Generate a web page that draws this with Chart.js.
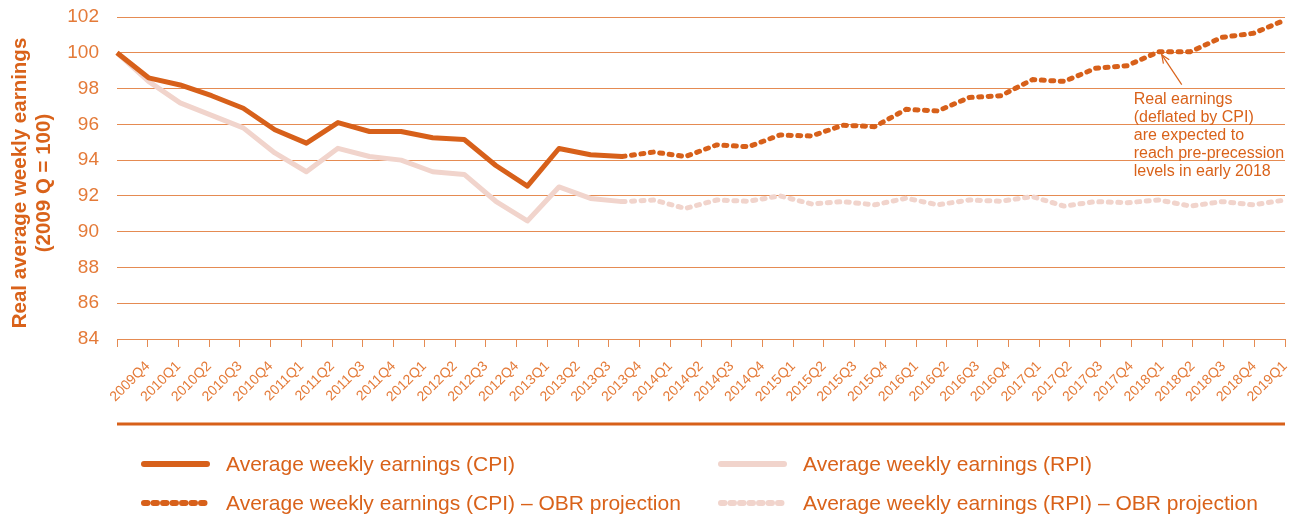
<!DOCTYPE html>
<html><head><meta charset="utf-8">
<script src="https://cdn.jsdelivr.net/npm/chart.js@4.4.1/dist/chart.umd.min.js"></script>
<style>html,body{margin:0;padding:0;background:#fff;overflow:hidden}canvas{display:block}</style>
</head><body>
<canvas id="c" width="1301" height="515"></canvas>
<script>
const categories = ['2009Q4','2010Q1','2010Q2','2010Q3','2010Q4','2011Q1','2011Q2','2011Q3','2011Q4',
  '2012Q1','2012Q2','2012Q3','2012Q4','2013Q1','2013Q2','2013Q3','2013Q4','2014Q1','2014Q2','2014Q3',
  '2014Q4','2015Q1','2015Q2','2015Q3','2015Q4','2016Q1','2016Q2','2016Q3','2016Q4','2017Q1','2017Q2',
  '2017Q3','2017Q4','2018Q1','2018Q2','2018Q3','2018Q4','2019Q1'];
const cpi = [100.0, 98.6, 98.2, 97.6, 96.9, 95.7, 94.95, 96.1, 95.6, 95.6, 95.25, 95.15, 93.7, 92.55,
  94.65, 94.3, 94.2, 94.45, 94.2, 94.85, 94.75, 95.4, 95.35, 95.95, 95.87, 96.84, 96.75, 97.5, 97.6,
  98.5, 98.4, 99.13, 99.28, 100.06, 100.06, 100.86, 101.09, 101.83];
const rpi = [100.0, 98.4, 97.2, 96.5, 95.8, 94.4, 93.35, 94.66, 94.2, 94.0, 93.35, 93.2, 91.7, 90.6,
  92.5, 91.86, 91.68, 91.77, 91.3, 91.77, 91.7, 92.0, 91.55, 91.68, 91.5, 91.87, 91.5, 91.77, 91.7,
  91.96, 91.43, 91.68, 91.62, 91.77, 91.43, 91.68, 91.5, 91.77];
const projectionStart = 16; // index of 2013Q4, first projected point shared with actuals
const yMin = 84, yMax = 102, yStep = 2;
const seriesNames = ['Average weekly earnings (CPI)', 'Average weekly earnings (CPI) \u2013 OBR projection',
  'Average weekly earnings (RPI)', 'Average weekly earnings (RPI) \u2013 OBR projection'];
const yTitle = ['Real average weekly earnings', '(2009 Q = 100)'];
const annotationIndex = 33;
const annotationText = ['Real earnings', '(deflated by CPI)', 'are expected to', 'reach pre-precession', 'levels in early 2018'];

const cpiColor = '#d7601a', rpiColor = '#f1d4cc', textColor = '#d9621a', tickColor = '#e47a38', gridColor = '#e58b52';
const FONT = '"Liberation Sans", Arial, Helvetica, sans-serif';
const DASH = [3, 6.5];

const actual = arr => arr.map((v, i) => i <= projectionStart ? v : null);
const projected = arr => arr.map((v, i) => i >= projectionStart ? v : null);

const base = {pointRadius: 0, pointHoverRadius: 0, tension: 0, borderWidth: 5, borderJoinStyle: 'round', spanGaps: false, fill: false};
const datasets = [
  Object.assign({}, base, {label: seriesNames[0], data: actual(cpi), borderColor: cpiColor, borderCapStyle: 'butt'}),
  Object.assign({}, base, {label: seriesNames[1], data: projected(cpi), borderColor: cpiColor, borderDash: DASH, borderCapStyle: 'round'}),
  Object.assign({}, base, {label: seriesNames[2], data: actual(rpi), borderColor: rpiColor, borderCapStyle: 'butt'}),
  Object.assign({}, base, {label: seriesNames[3], data: projected(rpi), borderColor: rpiColor, borderDash: DASH, borderCapStyle: 'round'})
];

const overlay = {
  id: 'overlay',
  afterDraw(chart) {
    const {ctx, chartArea, scales} = chart;
    ctx.save();
    // y axis title
    ctx.fillStyle = textColor;
    ctx.font = 'bold 20.5px ' + FONT;
    ctx.textAlign = 'center';
    ctx.textBaseline = 'middle';
    const cy = (chartArea.top + chartArea.bottom) / 2 + 5;
    yTitle.forEach((t, i) => {
      ctx.save(); ctx.translate(20 + i * 24, cy); ctx.rotate(-Math.PI / 2); ctx.fillText(t, 0, 0); ctx.restore();
    });
    // separator rule
    ctx.strokeStyle = cpiColor; ctx.lineWidth = 3;
    ctx.beginPath(); ctx.moveTo(chartArea.left, 424); ctx.lineTo(chartArea.right, 424); ctx.stroke();
    // annotation
    const px = scales.x.getPixelForValue(annotationIndex);
    const py = scales.y.getPixelForValue(cpi[annotationIndex]);
    const tx = px + 3, ty = py + 3, sx = px + 23, sy = py + 33;
    ctx.strokeStyle = textColor; ctx.lineWidth = 1.2;
    ctx.beginPath(); ctx.moveTo(sx, sy); ctx.lineTo(tx, ty); ctx.stroke();
    const ang = Math.atan2(ty - sy, tx - sx);
    ctx.beginPath();
    ctx.moveTo(tx + 9 * Math.cos(ang + Math.PI - 0.4), ty + 9 * Math.sin(ang + Math.PI - 0.4));
    ctx.lineTo(tx, ty);
    ctx.lineTo(tx + 9 * Math.cos(ang + Math.PI + 0.4), ty + 9 * Math.sin(ang + Math.PI + 0.4));
    ctx.stroke();
    ctx.fillStyle = textColor;
    ctx.font = '16px ' + FONT;
    ctx.textAlign = 'left'; ctx.textBaseline = 'alphabetic';
    annotationText.forEach((t, i) => ctx.fillText(t, px - 25, py + 52 + i * 18));
    // legend
    const cols = [{s: 141, e: 210, t: 226}, {s: 718, e: 787, t: 803}];
    const rows = [464, 503];
    const order = [[0, 0, 0], [2, 1, 0], [1, 0, 1], [3, 1, 1]];
    ctx.font = '21px ' + FONT;
    ctx.textBaseline = 'middle';
    order.forEach(([di, c, r]) => {
      const ds = chart.data.datasets[di];
      const col = cols[c], y = rows[r];
      ctx.save();
      ctx.strokeStyle = ds.borderColor; ctx.lineWidth = 6; ctx.lineCap = 'round';
      ctx.setLineDash(ds.borderDash ? [3.5, 6] : []);
      ctx.beginPath(); ctx.moveTo(col.s + 3, y); ctx.lineTo(col.e - 3, y); ctx.stroke();
      ctx.restore();
      ctx.fillStyle = textColor;
      ctx.fillText(ds.label, col.t, y + 1);
    });
    ctx.restore();
  }
};

new Chart(document.getElementById('c'), {
  type: 'line',
  data: {labels: categories, datasets},
  options: {
    responsive: false, animation: false, devicePixelRatio: 1,
    layout: {padding: {left: 0, right: 16, top: 17, bottom: 0}},
    plugins: {legend: {display: false}, tooltip: {enabled: false}},
    scales: {
      x: {type: 'category', display: false, offset: false},
      xt: {
        type: 'category', position: 'bottom', offset: false,
        labels: [''].concat(categories),
        grid: {display: true, drawOnChartArea: false, color: gridColor, tickLength: 8, lineWidth: 1},
        border: {display: true, color: gridColor, width: 1},
        ticks: {autoSkip: false, maxRotation: 45, minRotation: 45, color: tickColor, padding: 11,
          font: {family: FONT, size: 14}},
        afterFit(scale) { scale.height = 176; scale.paddingLeft = 0; scale.paddingRight = 0; }
      },
      y: {
        min: yMin, max: yMax,
        ticks: {stepSize: yStep, color: tickColor, padding: 18, font: {family: FONT, size: 19}},
        grid: {color: gridColor, lineWidth: 1, drawTicks: false},
        border: {display: false},
        afterFit(scale) { scale.width = 117; scale.paddingTop = 0; scale.paddingBottom = 0; }
      }
    }
  },
  plugins: [overlay]
});
</script>
</body></html>
